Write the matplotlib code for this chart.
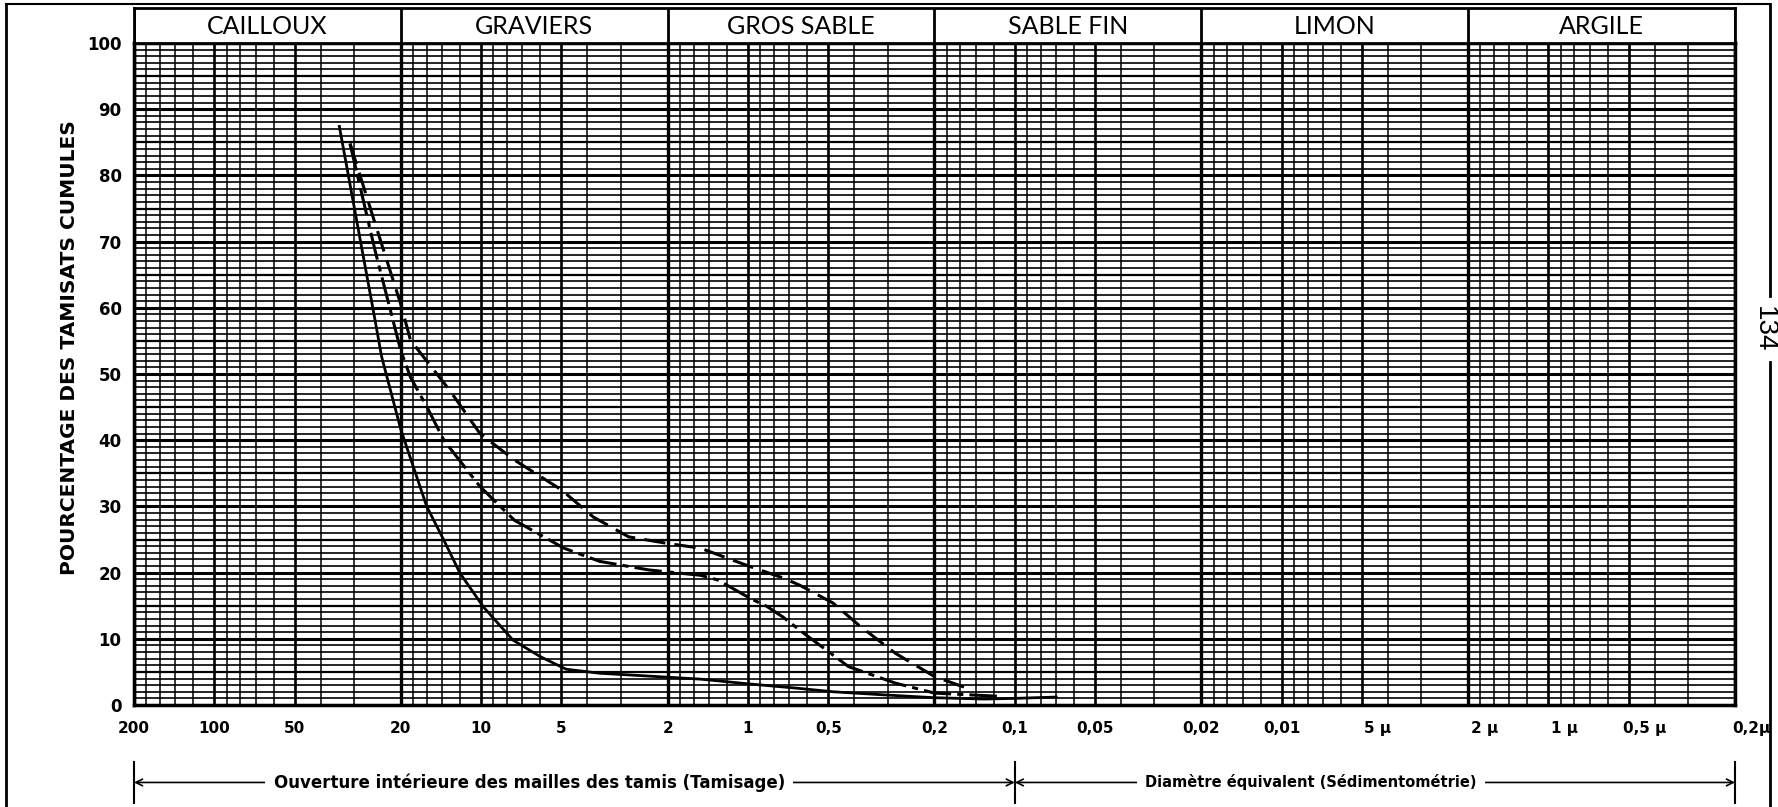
import numpy as np
import matplotlib.pyplot as plt
from matplotlib.lines import Line2D
from matplotlib.transforms import ScaledTranslation

# classes granulometriques et leurs limites (mm)
classes = ['CAILLOUX', 'GRAVIERS', 'GROS SABLE', 'SABLE FIN', 'LIMON', 'ARGILE']
limites = [200, 20, 2, 0.2, 0.02, 0.002, 0.0002]

# graduations de l'axe des diametres (mm)
x_ticks = [200, 100, 50, 20, 10, 5, 2, 1, 0.5, 0.2, 0.1, 0.05, 0.02, 0.01,
           0.005, 0.002, 0.001, 0.0005, 0.0002]
x_labels = ['200', '100', '50', '20', '10', '5', '2', '1', '0,5', '0,2', '0,1',
            '0,05', '0,02', '0,01', '5 µ', '2 µ', '1 µ', '0,5 µ', '0,2µ']
y_ticks = [0, 10, 20, 30, 40, 50, 60, 70, 80, 90, 100]

# courbe 1 (trait plein)
d_plein = [34, 30, 25, 23.6, 20, 16, 13.8, 12, 9.8, 7.6, 6.0, 4.8, 3.6, 2.0, 1.5, 1.0,
           0.64, 0.48, 0.3, 0.2, 0.13, 0.1, 0.07]
p_plein = [87.4, 75.5, 58.2, 52.6, 41.6, 30, 24.9, 19.9, 14.8, 9.8, 7.3, 5.4, 4.8, 4.2, 3.9, 3.2,
           2.5, 2.0, 1.5, 1.1, 0.9, 1.0, 1.2]

# courbe 2 (tirets-points)
d_mixte = [31, 25, 20, 18.4, 16, 13.8, 10.1, 7.5, 4.9, 3.6, 2.35, 1.51, 1.3, 0.98, 0.85,
           0.74, 0.64, 0.42, 0.28, 0.2, 0.113]
p_mixte = [84.8, 68.7, 53.5, 49.5, 45.1, 40, 33, 27.9, 23.7, 21.7, 20.4, 19.6, 18.9, 16.1, 14.9,
           13.3, 11.3, 5.8, 3.3, 1.8, 1.3]

# courbe 3 (tirets)
d_tiret = [31, 25, 20, 18.4, 13.1, 10.1, 7.5, 5.0, 3.8, 2.8, 2.0, 1.51, 0.98, 0.74, 0.64,
           0.48, 0.38, 0.28, 0.2, 0.15]
p_tiret = [84.8, 72.8, 60.5, 55.1, 47.5, 41, 37, 32.5, 28.4, 25.4, 24.4, 23.7, 20.9, 19.2, 18.1,
           15.4, 11.9, 7.8, 4.3, 2.5]

W, H = 1778, 807
fig = plt.figure(figsize=(W / 100, H / 100), dpi=100)

x0, x1 = 134, 1735      # bords du quadrillage (px)
y0, y1 = 43, 705
ax = fig.add_axes([x0 / W, 1 - y1 / H, (x1 - x0) / W, (y1 - y0) / H])
ax.set_xscale('log')
ax.set_xlim(200, 0.0002)
ax.set_ylim(0, 100)

# quadrillage vertical
mult = [1, 1.2, 1.4, 1.6, 1.8, 2, 3, 4, 5, 6, 7, 8, 9]
for k in range(-4, 3):
    for m in mult:
        v = m * 10.0 ** k
        if 0.0002 <= v <= 200:
            lw = 1.1
            if m in (1, 2, 5):
                lw = 1.9
            ax.axvline(v, color='black', lw=lw, zorder=1)
for v in limites:
    ax.axvline(v, color='black', lw=2.4, zorder=1)

# quadrillage horizontal
for p in range(0, 101):
    lw = 1.2
    if p % 10 == 0:
        lw = 2.2
    elif p % 5 == 0:
        lw = 1.6
    ax.axhline(p, color='black', lw=lw, zorder=1)

ax.plot(d_plein, p_plein, color='black', lw=2.0, zorder=3, solid_joinstyle='round')
ax.plot(d_mixte, p_mixte, color='black', lw=2.2, ls=(0, (9, 2, 2, 2)), zorder=3)
ax.plot(d_tiret, p_tiret, color='black', lw=2.2, ls=(0, (7, 3)), zorder=3)

for s in ax.spines.values():
    s.set_linewidth(2.5)

ax.set_yticks(y_ticks)
ax.set_yticklabels([str(v) for v in y_ticks], fontsize=12, fontweight='bold')
ax.tick_params(axis='y', length=0, pad=9)
ax.set_xticks([])
ax.minorticks_off()
ax.tick_params(axis='x', which='both', length=0)

# etiquettes de l'axe des x
trans = ax.get_xaxis_transform()
for v, lab in zip(x_ticks, x_labels):
    t = trans
    if 'µ' in lab:
        t = trans + ScaledTranslation(0.16, 0, fig.dpi_scale_trans)
    ax.text(v, -0.035, lab, transform=t, ha='center', va='center',
            fontsize=11, fontweight='bold', clip_on=False)

ax.text(-0.040, 0.54, 'POURCENTAGE DES TAMISATS CUMULES', transform=ax.transAxes,
        rotation=90, ha='center', va='center', fontsize=14.5, fontweight='bold')

# bandeau des classes
hx = fig.add_axes([x0 / W, 1 - y0 / H, (x1 - x0) / W, 35 / H])
hx.set_xscale('log')
hx.set_xlim(200, 0.0002)
hx.set_ylim(0, 1)
hx.set_xticks([])
hx.set_yticks([])
hx.minorticks_off()
for s in hx.spines.values():
    s.set_linewidth(2.0)
for v in limites:
    hx.axvline(v, color='black', lw=2.0)
for i, c in enumerate(classes):
    xm = np.sqrt(limites[i] * limites[i + 1])
    hx.text(xm, 0.48, c, ha='center', va='center', fontsize=18, family='Lato')

# fleches du bas
ya = -0.117
for a, b in [(200, 0.1), (0.1, 0.0002)]:
    ax.annotate('', xy=(a, ya), xytext=(b, ya), xycoords=trans, textcoords=trans,
                arrowprops=dict(arrowstyle='<->', lw=1.2, color='black',
                                shrinkA=0, shrinkB=0, mutation_scale=12),
                annotation_clip=False)
for v in [200, 0.1, 0.0002]:
    ax.plot([v, v], [-0.086, -0.148], transform=trans, color='black', lw=1.5, clip_on=False)
ax.text(0.247, ya, 'Ouverture intérieure des mailles des tamis (Tamisage)', transform=ax.transAxes,
        ha='center', va='center', fontsize=12, fontweight='bold',
        bbox=dict(facecolor='white', edgecolor='none', pad=6))
ax.text(0.735, ya, 'Diamètre équivalent (Sédimentométrie)', transform=ax.transAxes,
        ha='center', va='center', fontsize=10.5, fontweight='bold',
        bbox=dict(facecolor='white', edgecolor='none', pad=6))

# cadre de la page
fig.add_artist(Line2D([6 / W, 6 / W], [0, 1 - 4 / H], color='black', lw=2.0))
fig.add_artist(Line2D([6 / W, 1770 / W], [1 - 4 / H, 1 - 4 / H], color='black', lw=1.5))
fig.add_artist(Line2D([1770 / W, 1770 / W], [1 - 4 / H, 1 - 296 / H], color='black', lw=2.0))
fig.add_artist(Line2D([1770 / W, 1770 / W], [1 - 362 / H, 0], color='black', lw=2.0))
fig.text(1764 / W, 1 - 329 / H, '134', rotation=-90, ha='center', va='center',
         fontsize=20, family='Liberation Sans')

fig.savefig('out.png', dpi=100)
